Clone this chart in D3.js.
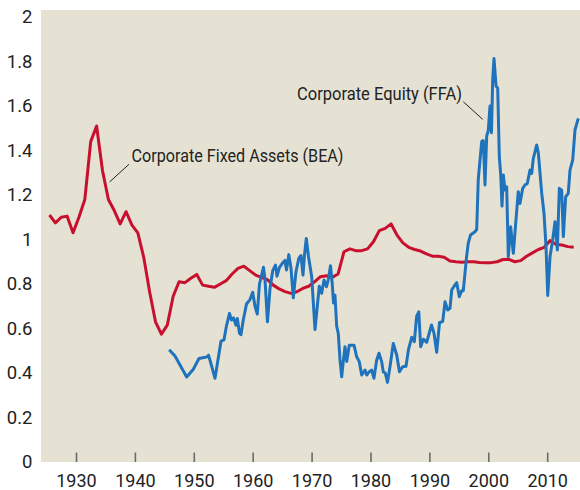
<!DOCTYPE html>
<html>
<head>
<meta charset="utf-8">
<script src="https://cdn.jsdelivr.net/npm/d3@7/dist/d3.min.js"></script>
<style>
  body { margin: 0; background: #fff; }
  svg { display: block; font-family: Roboto, "Liberation Sans", sans-serif; }
</style>
</head>
<body>
<div id="chart"></div>
<script>
// Tick values
var yTicks = [0, 0.2, 0.4, 0.6, 0.8, 1, 1.2, 1.4, 1.6, 1.8, 2];
var xTicks = [1930, 1940, 1950, 1960, 1970, 1980, 1990, 2000, 2010];

// Corporate Fixed Assets (BEA), annual 1925-2014
var assetYears = d3.range(1925, 2015);
var assetValues = [
  1.11, 1.075, 1.10, 1.105, 1.03, 1.10, 1.18, 1.44, 1.51, 1.31,
  1.18, 1.13, 1.07, 1.125, 1.065, 1.03, 0.92, 0.765, 0.63, 0.575,
  0.615, 0.745, 0.81, 0.806, 0.826, 0.843, 0.795, 0.79, 0.785, 0.80,
  0.815, 0.845, 0.87, 0.88, 0.86, 0.84, 0.83, 0.82, 0.795, 0.778,
  0.766, 0.758, 0.765, 0.78, 0.79, 0.81, 0.833, 0.837, 0.83, 0.845,
  0.945, 0.958, 0.95, 0.95, 0.958, 0.99, 1.04, 1.05, 1.07, 1.02,
  0.985, 0.965, 0.955, 0.948, 0.935, 0.925, 0.925, 0.92, 0.903, 0.90,
  0.898, 0.90, 0.90, 0.897, 0.896, 0.896, 0.90, 0.91, 0.911, 0.90,
  0.905, 0.925, 0.94, 0.955, 0.965, 0.995, 0.978, 0.975, 0.968, 0.965
];

var equityYears = [
  1945.82, 1946.81, 1948.79, 1949.92, 1950.88, 1952.19, 1952.50, 1952.75, 1953.60, 1954.62,
  1955.13, 1955.55, 1956.06, 1956.40, 1956.74, 1957.16, 1957.39, 1957.76, 1958.01, 1958.40,
  1958.95, 1959.54, 1960.00, 1960.39, 1960.78, 1961.15, 1961.32, 1961.83, 1962.09, 1962.51,
  1962.94, 1963.40, 1963.87, 1964.13, 1964.55, 1965.09, 1965.48, 1965.74, 1966.13, 1966.50,
  1966.89, 1967.35, 1967.83, 1968.20, 1968.54, 1968.79, 1969.10, 1969.47, 1970.02, 1970.58,
  1970.97, 1971.31, 1971.71, 1972.11, 1972.53, 1972.84, 1973.21, 1973.51, 1973.72, 1973.97,
  1974.26, 1974.53, 1974.82, 1975.11, 1975.38, 1975.67, 1975.96, 1976.40, 1977.20, 1977.66,
  1978.10, 1978.51, 1979.07, 1979.36, 1979.80, 1980.20, 1980.59, 1981.05, 1981.44, 1981.90,
  1982.17, 1982.51, 1982.89, 1983.31, 1983.87, 1984.45, 1984.92, 1985.47, 1986.03, 1986.45,
  1987.00, 1987.44, 1987.84, 1988.20, 1988.52, 1988.97, 1989.54, 1990.36, 1990.78, 1991.24,
  1991.72, 1992.26, 1992.65, 1993.11, 1993.50, 1993.79, 1994.35, 1994.64, 1995.08, 1995.48,
  1995.76, 1996.30, 1996.61, 1996.98, 1997.74, 1998.03, 1998.30, 1998.88, 1999.15, 1999.44,
  1999.73, 2000.00, 2000.29, 2000.54, 2000.75, 2000.97, 2001.31, 2001.60, 2001.87, 2002.11,
  2002.33, 2002.55, 2002.84, 2003.12, 2003.40, 2003.80, 2004.25, 2004.70, 2005.09, 2005.38,
  2005.84, 2006.23, 2006.62, 2007.08, 2007.37, 2007.64, 2008.22, 2008.49, 2009.07, 2009.46,
  2009.80, 2010.09, 2010.48, 2010.93, 2011.33, 2011.72, 2012.06, 2012.46, 2012.74, 2013.14,
  2013.58, 2013.87, 2014.33, 2014.72, 2015.28
];
var equityValues = [
  0.505, 0.476, 0.382, 0.417, 0.465, 0.472, 0.48, 0.458, 0.376, 0.543,
  0.549, 0.612, 0.668, 0.638, 0.648, 0.615, 0.645, 0.578, 0.572, 0.638,
  0.71, 0.73, 0.763, 0.70, 0.665, 0.80, 0.818, 0.875, 0.82, 0.63,
  0.78, 0.86, 0.885, 0.835, 0.875, 0.895, 0.906, 0.863, 0.932, 0.872,
  0.738, 0.855, 0.915, 0.928, 0.84, 0.93, 1.005, 0.925, 0.833, 0.595,
  0.70, 0.79, 0.758, 0.818, 0.788, 0.821, 0.882, 0.80, 0.715, 0.75,
  0.61, 0.578, 0.46, 0.383, 0.452, 0.518, 0.452, 0.525, 0.525, 0.473,
  0.451, 0.391, 0.413, 0.391, 0.406, 0.413, 0.376, 0.458, 0.489, 0.451,
  0.405, 0.40, 0.358, 0.428, 0.533, 0.481, 0.406, 0.428, 0.43, 0.505,
  0.56, 0.541, 0.655, 0.675, 0.518, 0.552, 0.538, 0.616, 0.58, 0.493,
  0.627, 0.631, 0.72, 0.683, 0.691, 0.773, 0.796, 0.806, 0.743, 0.77,
  0.77, 0.92, 0.985, 1.02, 1.035, 1.045, 1.27, 1.44, 1.445, 1.245,
  1.465, 1.49, 1.60, 1.48, 1.72, 1.814, 1.69, 1.68, 1.372, 1.29,
  1.15, 1.29, 1.222, 1.237, 0.923, 1.057, 0.938, 1.088, 1.215, 1.162,
  1.23, 1.245, 1.252, 1.312, 1.297, 1.364, 1.425, 1.39, 1.208, 1.117,
  0.968, 0.748, 0.923, 0.998, 1.08, 0.953, 1.23, 1.222, 1.013, 1.192,
  1.207, 1.312, 1.357, 1.492, 1.544
];

var width = 580, height = 490;
var plotLeft = 41, plotRight = 580, plotTop = 10, plotBottom = 462;

var svg = d3.select('#chart')
    .append('svg')
    .attr('width', width)
    .attr('height', height);

var xScale = d3.scaleLinear()
    .domain([1924.06, 2015.57])
    .range([plotLeft, plotRight]);

var yScale = d3.scaleLinear()
    .domain([0, 2])
    .range([plotBottom, 17]);

// plot background
svg.append('rect')
    .attr('x', plotLeft)
    .attr('y', plotTop)
    .attr('width', plotRight - plotLeft)
    .attr('height', plotBottom - plotTop)
    .attr('fill', '#e6e2d3');

// x axis: short ticks pointing up into the plot
var xAxis = svg.append('g')
    .attr('transform', 'translate(0,' + plotBottom + ')')
    .call(d3.axisBottom(xScale).tickValues(xTicks).tickFormat(d3.format('d'))
        .tickSize(-9.5).tickPadding(12.5));
xAxis.select('.domain').remove();
xAxis.selectAll('line').attr('stroke', '#6b6b6b').attr('stroke-width', 1.6);
xAxis.selectAll('text').attr('font-size', 18).attr('fill', '#222')
    .attr('font-family', 'Roboto, sans-serif');

// y axis: labels only
var yAxis = svg.append('g')
    .attr('transform', 'translate(' + plotLeft + ',0)')
    .call(d3.axisLeft(yScale).tickValues(yTicks).tickFormat(d3.format('~g'))
        .tickSize(0).tickPadding(8.5));
yAxis.select('.domain').remove();
yAxis.selectAll('text').attr('font-size', 18.5).attr('fill', '#222')
    .attr('font-family', 'Roboto, sans-serif');

// Fixed assets line, plotted at mid-year
var assetLine = d3.line()
    .x(function(d, i) { return xScale(assetYears[i] + 0.5); })
    .y(function(d) { return yScale(d); });

svg.append('path')
    .datum(assetValues)
    .attr('d', assetLine)
    .attr('fill', 'none')
    .attr('stroke', '#c8102e')
    .attr('stroke-width', 3)
    .attr('stroke-linejoin', 'round');

// Equity line
var equityLine = d3.line()
    .x(function(d, i) { return xScale(equityYears[i]); })
    .y(function(d) { return yScale(d); });

svg.append('path')
    .datum(equityValues)
    .attr('d', equityLine)
    .attr('fill', 'none')
    .attr('stroke', '#1f73bd')
    .attr('stroke-width', 3)
    .attr('stroke-linejoin', 'round');

// labels with leader lines
svg.append('line')
    .attr('x1', xScale(1939.0)).attr('y1', yScale(1.338))
    .attr('x2', xScale(1935.72)).attr('y2', yScale(1.259))
    .attr('stroke', '#222').attr('stroke-width', 1);

svg.append('text')
    .attr('x', 131.5)
    .attr('y', 162)
    .attr('font-size', 18.5)
    .attr('fill', '#222')
    .attr('textLength', 212)
    .attr('lengthAdjust', 'spacingAndGlyphs')
    .text('Corporate Fixed Assets (BEA)');

svg.append('line')
    .attr('x1', xScale(1995.76)).attr('y1', yScale(1.619))
    .attr('x2', xScale(1999.05)).attr('y2', yScale(1.540))
    .attr('stroke', '#222').attr('stroke-width', 1);

svg.append('text')
    .attr('x', 297)
    .attr('y', 99.5)
    .attr('font-size', 18.5)
    .attr('fill', '#222')
    .attr('textLength', 165)
    .attr('lengthAdjust', 'spacingAndGlyphs')
    .text('Corporate Equity (FFA)');
</script>
</body>
</html>
